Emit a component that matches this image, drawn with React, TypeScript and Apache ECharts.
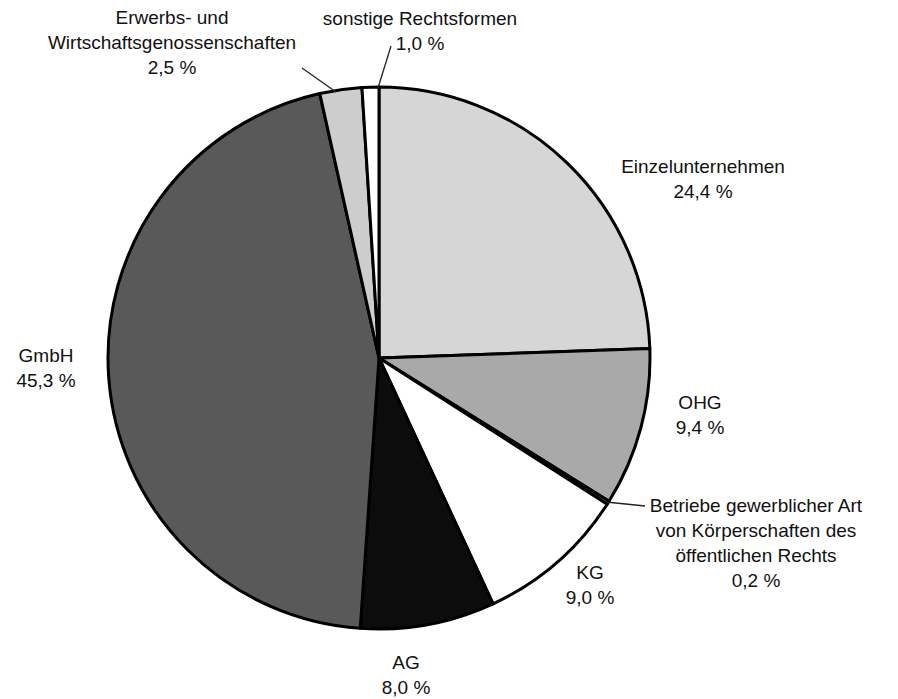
import React, { useEffect, useRef } from "react";
import * as echarts from "echarts";

const categories = [
  "Einzelunternehmen",
  "OHG",
  "Betriebe gewerblicher Art\nvon Körperschaften des\nöffentlichen Rechts",
  "KG",
  "AG",
  "GmbH",
  "Erwerbs- und\nWirtschaftsgenossenschaften",
  "sonstige Rechtsformen",
];
const shares = [24.4, 9.4, 0.2, 9.0, 8.0, 45.3, 2.5, 1.0];
const sliceColors = ["#d6d6d6", "#a9a9a9", "#888888", "#ffffff", "#0c0c0c", "#595959", "#cdcdcd", "#ffffff"];
// label anchor (centre of text block) for each slice
const labelPos: [number, number][] = [
  [703, 179],
  [700, 415],
  [756, 543],
  [590, 585],
  [406, 675],
  [46, 368],
  [172, 42],
  [420, 31],
];
// leader lines [x1, y1, x2, y2]
const leaders: [number, number, number, number][] = [
  [302, 68, 336, 92],
  [391, 46, 378, 88],
  [606, 502, 645, 506],
];

export default function App() {
  const ref = useRef<HTMLDivElement>(null);
  useEffect(() => {
    const chart = echarts.init(ref.current!, null, { renderer: "svg" });
    chart.setOption({
      animation: false,
      backgroundColor: "#ffffff",
      graphic: leaders.map(([x1, y1, x2, y2]) => ({
        type: "line",
        shape: { x1, y1, x2, y2 },
        style: { stroke: "#222", lineWidth: 1.3 },
        z: 10,
      })),
      series: [
        {
          type: "pie",
          center: [379, 358],
          radius: 271,
          startAngle: 90,
          clockwise: true,
          avoidLabelOverlap: false,
          data: categories.map((name, i) => ({
            name,
            value: shares[i],
            itemStyle: { color: sliceColors[i] },
          })),
          itemStyle: { borderColor: "#000", borderWidth: 3 },
          label: {
            show: true,
            position: "outside",
            fontFamily: "Liberation Sans, Arial, sans-serif",
            fontSize: 19,
            color: "#111",
            lineHeight: 25,
            align: "center",
            formatter: (p: any) => p.name + "\n" + p.value.toFixed(1).replace(".", ",") + " %",
          },
          labelLine: { show: false },
          labelLayout: (p: any) => {
            const [x, y] = labelPos[p.dataIndex];
            return { x, y, align: "center", verticalAlign: "middle" };
          },
        },
      ],
    });
    return () => chart.dispose();
  }, []);
  return (
    <div
      ref={ref}
      style={{ position: "fixed", left: 0, top: 0, width: 898, height: 699 }}
    />
  );
}
